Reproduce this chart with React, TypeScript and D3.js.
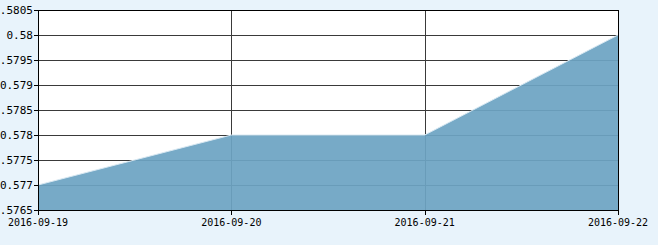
import React from "react";
import * as d3 from "d3";

const categories = ["2016-09-19", "2016-09-20", "2016-09-21", "2016-09-22"];
const values = [0.577, 0.578, 0.578, 0.58];
const yTicks = [0.5765, 0.577, 0.5775, 0.578, 0.5785, 0.579, 0.5795, 0.58, 0.5805];

const W = 658, H = 245;
const L = 38, R = 618, T = 10, B = 210;

export default function App() {
  const x = d3.scalePoint<string>().domain(categories).range([L, R]);
  const y = d3.scaleLinear().domain([0.5765, 0.5805]).range([B, T]);
  const area = d3
    .area<number>()
    .x((_, i) => x(categories[i])!)
    .y0(B)
    .y1((d) => y(d));
  const font = "'DejaVu Sans Mono', monospace";
  return (
    <svg
      width={W}
      height={H}
      style={{ position: "absolute", left: 0, top: 0, display: "block" }}
    >
      <rect x={0} y={0} width={W} height={H} fill="#E8F3FB" />
      <rect x={L} y={T} width={R - L} height={B - T} fill="#FFFFFF" />
      {yTicks.map((t) => (
        <line
          key={"gy" + t}
          x1={L}
          x2={R}
          y1={Math.round(y(t)) + 0.5}
          y2={Math.round(y(t)) + 0.5}
          stroke="#3a3a3a"
          strokeWidth={1}
        />
      ))}
      {categories.map((c) => (
        <line
          key={"gx" + c}
          x1={Math.round(x(c)!) + 0.5}
          x2={Math.round(x(c)!) + 0.5}
          y1={T}
          y2={B}
          stroke="#3a3a3a"
          strokeWidth={1}
        />
      ))}
      <path d={area(values) || ""} fill="#6DA4C3" fillOpacity={0.93} />
      <path
        d={d3.line<number>().x((_, i) => x(categories[i])!).y((d) => y(d))(values) || ""}
        fill="none"
        stroke="#D8E8F2"
        strokeWidth={1}
      />
      {/* axes */}
      <line x1={L + 0.5} x2={L + 0.5} y1={T} y2={B + 1} stroke="#000" />
      <line x1={R + 0.5} x2={R + 0.5} y1={T} y2={B + 1} stroke="#000" />
      <line x1={L} x2={R + 1} y1={T + 0.5} y2={T + 0.5} stroke="#000" />
      <line x1={L} x2={R + 1} y1={B + 0.5} y2={B + 0.5} stroke="#000" />
      {yTicks.map((t) => (
        <g key={"ty" + t}>
          <line
            x1={L - 4}
            x2={L}
            y1={Math.round(y(t)) + 0.5}
            y2={Math.round(y(t)) + 0.5}
            stroke="#000"
          />
          <text
            x={L - 5}
            y={y(t) + 4}
            textAnchor="end"
            fontFamily={font}
            fontSize={11}
            fill="#000"
          >
            {String(t)}
          </text>
        </g>
      ))}
      {categories.map((c) => (
        <g key={"tx" + c}>
          <line
            x1={Math.round(x(c)!) + 0.5}
            x2={Math.round(x(c)!) + 0.5}
            y1={B}
            y2={B + 5}
            stroke="#000"
          />
          <text
            x={x(c)!}
            y={226}
            textAnchor="middle"
            fontFamily={font}
            fontSize={10}
            fill="#000"
          >
            {c}
          </text>
        </g>
      ))}
    </svg>
  );
}
